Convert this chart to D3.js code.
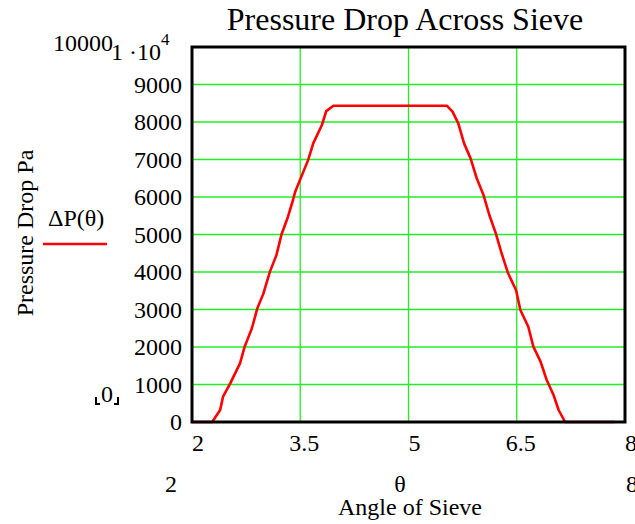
<!DOCTYPE html>
<html>
<head>
<meta charset="utf-8">
<script src="https://cdn.jsdelivr.net/npm/d3@7"></script>
<style>
  body { margin: 0; background: #fff; }
  text { font-family: "Liberation Serif", "Times New Roman", serif; fill: #000; }
</style>
</head>
<body>
<svg id="chart" width="635" height="524"></svg>
<script>
// angle of sieve (theta) and pressure drop
const theta = [2.00, 2.28, 2.39, 2.43, 2.53, 2.665, 2.73, 2.83, 2.905, 2.99, 3.08, 3.17, 3.24, 3.33, 3.40,
  3.43, 3.61, 3.68, 3.80, 3.86, 3.96, 5.53, 5.61, 5.69, 5.77, 5.86, 5.945, 6.04, 6.12, 6.21, 6.29,
  6.38, 6.49, 6.55, 6.66, 6.73, 6.83, 6.915, 7.01, 7.08, 7.17, 7.86];
const pressure = [0, 0, 320, 675, 1030, 1565, 2010, 2500, 3030, 3430, 4010, 4450, 5000, 5475, 5920,
  6140, 6990, 7430, 7920, 8290, 8435, 8435, 8275, 7965, 7430, 7030, 6500, 6050, 5520, 5030, 4500,
  3965, 3520, 2985, 2540, 2010, 1610, 1120, 720, 320, 0, 0];

const xTicks = [2, 3.5, 5, 6.5, 8];
const xTickLabels = ['2', '3.5', '5', '6.5', '8'];
const yTicks = [0, 1000, 2000, 3000, 4000, 5000, 6000, 7000, 8000, 9000, 10000];
const yTickLabels = ['0', '1000', '2000', '3000', '4000', '5000', '6000', '7000', '8000', '9000'];

const title = 'Pressure Drop Across Sieve';
const xTitle = 'Angle of Sieve';
const yTitle = 'Pressure Drop Pa';
const legendLabel = 'ΔP(θ)';

const svg = d3.select('#chart');
const box = {left: 192, right: 625, top: 47, bottom: 422};

const x = d3.scaleLinear().domain([2, 8]).range([box.left, box.right]);
const y = d3.scaleLinear().domain([0, 10000]).range([box.bottom, box.top]);

// grid lines
svg.append('g')
  .selectAll('line')
  .data(yTicks.slice(1, -1))
  .join('line')
  .attr('x1', box.left).attr('x2', box.right)
  .attr('y1', d => y(d)).attr('y2', d => y(d))
  .attr('stroke', '#22ee22').attr('stroke-width', 1.3);
svg.append('g')
  .selectAll('line')
  .data(xTicks.slice(1, -1))
  .join('line')
  .attr('y1', box.top).attr('y2', box.bottom)
  .attr('x1', d => x(d)).attr('x2', d => x(d))
  .attr('stroke', '#22ee22').attr('stroke-width', 1.3);

// the curve
const line = d3.line().x(d => x(d[0])).y(d => y(d[1]));
svg.append('path')
  .datum(d3.zip(theta, pressure))
  .attr('d', line)
  .attr('fill', 'none')
  .attr('stroke', '#ff0000')
  .attr('stroke-width', 2.6)
  .attr('stroke-linejoin', 'round');

// frame
svg.append('rect')
  .attr('x', box.left).attr('y', box.top)
  .attr('width', box.right - box.left).attr('height', box.bottom - box.top)
  .attr('fill', 'none').attr('stroke', '#000').attr('stroke-width', 3);

// y tick labels (top one sits beside the limit marker)
svg.append('g')
  .selectAll('text')
  .data(yTickLabels)
  .join('text')
  .attr('x', 182)
  .attr('y', (d, i) => y(yTicks[i]) + 8)
  .attr('text-anchor', 'end')
  .style('font-size', '24px')
  .text(d => d);
svg.append('text').attr('x', 53).attr('y', 51).style('font-size', '24px').text('10000');
const lim = svg.append('text').attr('x', 111).attr('y', 60).style('font-size', '24px');
lim.append('tspan').text('1 ·10');
lim.append('tspan').attr('dy', -15).style('font-size', '17px').text('4');

// lower limit marker with corner brackets
svg.append('text').attr('x', 107).attr('y', 402).attr('text-anchor', 'middle')
  .style('font-size', '24px').text('0');
svg.append('path')
  .attr('d', 'M96,397 V404 H100 M118,397 V404 H114')
  .attr('fill', 'none').attr('stroke', '#000').attr('stroke-width', 2);

// x tick labels
svg.append('g')
  .selectAll('text')
  .data(xTickLabels)
  .join('text')
  .attr('x', (d, i) => x(xTicks[i]) + (d.includes('.') ? -11 : 0))
  .attr('y', 451)
  .style('font-size', '24px')
  .text(d => d);

// x limits and variable name
svg.append('text').attr('x', 165).attr('y', 492).style('font-size', '24px').text('2');
svg.append('text').attr('x', 400).attr('y', 492).attr('text-anchor', 'middle').style('font-size', '24px').text('θ');
svg.append('text').attr('x', 626).attr('y', 492).style('font-size', '24px').text('8');
svg.append('text').attr('x', 410).attr('y', 515).attr('text-anchor', 'middle').style('font-size', '24px').text(xTitle);

// y title
svg.append('text')
  .attr('transform', 'translate(33,233) rotate(-90)')
  .attr('text-anchor', 'middle')
  .style('font-size', '24px')
  .text(yTitle);

// legend
svg.append('text').attr('x', 48).attr('y', 226).style('font-size', '24px').text(legendLabel);
svg.append('line')
  .attr('x1', 43).attr('x2', 107).attr('y1', 244).attr('y2', 244)
  .attr('stroke', '#ff0000').attr('stroke-width', 2.6);

// title
svg.append('text')
  .attr('x', 405).attr('y', 30)
  .attr('text-anchor', 'middle')
  .style('font-size', '32px')
  .text(title);
</script>
</body>
</html>
